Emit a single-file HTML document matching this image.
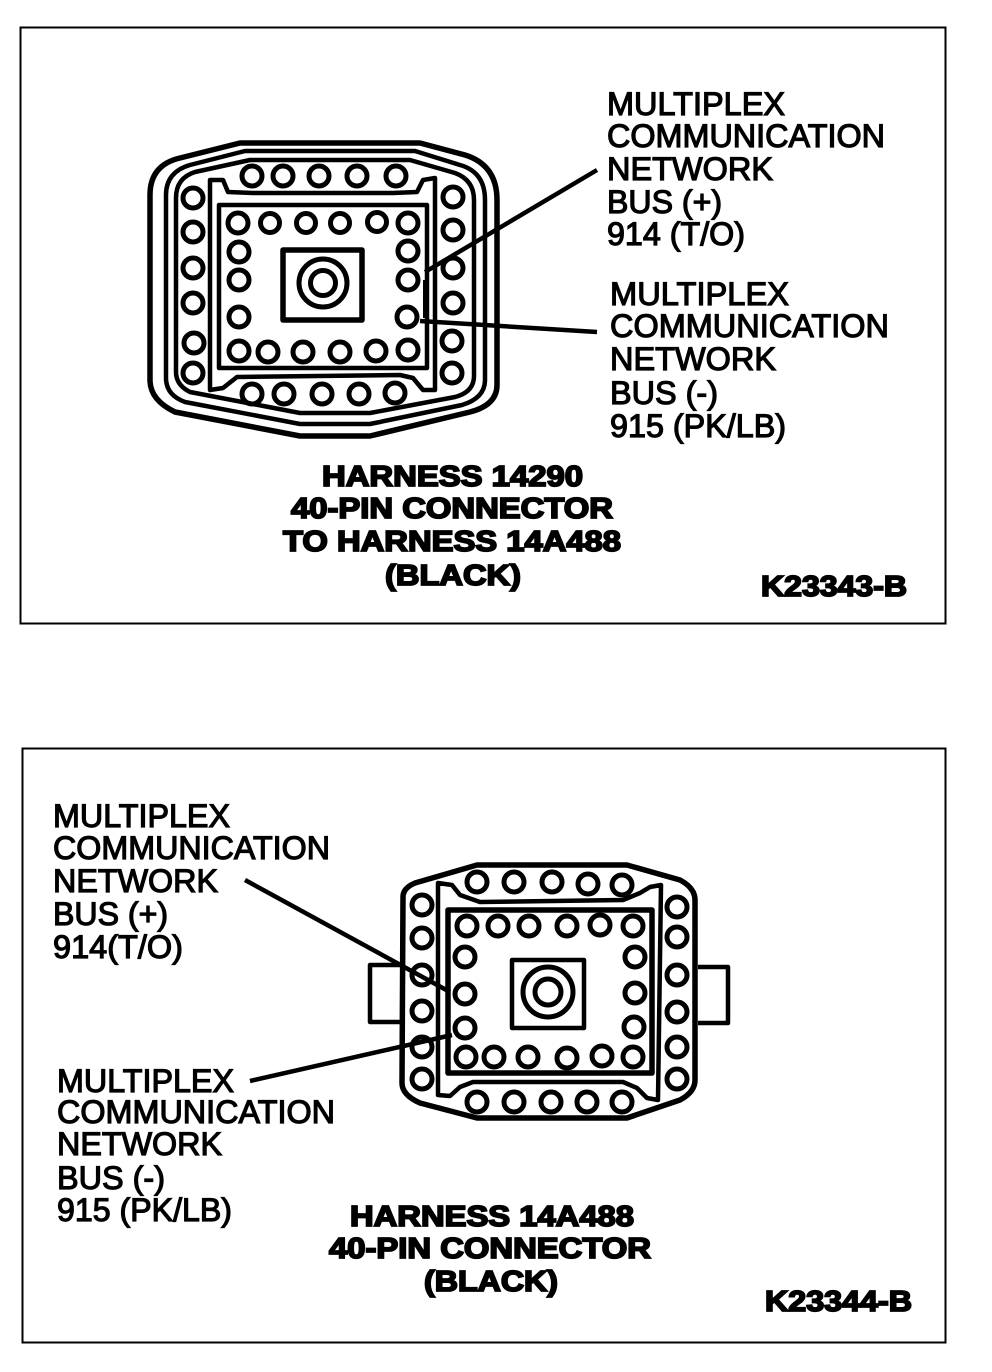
<!DOCTYPE html>
<html><head><meta charset="utf-8"><style>
html,body{margin:0;padding:0;background:#fff}
svg{display:block}
text{font-family:"Liberation Sans",sans-serif;fill:#000}
.l{font-size:32px;stroke:#000;stroke-width:1.2px}
.b{font-size:29px;font-weight:bold;stroke:#000;stroke-width:1.8px}
.c circle{fill:none;stroke:#000;stroke-width:5}
.p{fill:none;stroke:#000;stroke-width:4.5;stroke-linejoin:round}
</style></head><body>
<svg width="992" height="1372" viewBox="0 0 992 1372" xmlns="http://www.w3.org/2000/svg">
<rect width="992" height="1372" fill="#fff"/>
<rect x="20.5" y="27.5" width="925" height="596" fill="none" stroke="#000" stroke-width="2"/>
<rect x="22.5" y="748.5" width="923" height="594" fill="none" stroke="#000" stroke-width="2"/>

<!-- Top connector -->
<path class="p" style="stroke-width:5.5" d="M150 195Q150 165 180 158L240 143H420L465 155Q497 165 497 200V385Q497 405 470 412L370 436H300L175 412Q150 400 150 380Z"/>
<path class="p" d="M166 195Q166 172 190 165L245 151H415L460 165Q485 172 485 200V380Q485 398 462 405L370 424H300L185 402Q166 395 166 378Z"/>
<path class="p" d="M176 198Q176 178 195 172L250 160H410L455 173Q474 180 474 200V376Q474 392 455 397L370 413H300L190 392Q176 385 176 372Z"/>
<path class="p" d="M210 180L223 180 228 192 253 193H393L417 192 423 180 435 178V390H423L413 378 400 375 237 377 223 388 210 390Z"/>
<rect class="p" x="219" y="205" width="208" height="163"/>
<rect class="p" x="283" y="250" width="79" height="70" style="stroke-width:5.5"/>
<rect x="423" y="280" width="6" height="38"/>
<g class="c" fill="#fff">
<circle cx="323" cy="283" r="24"/><circle cx="323" cy="283" r="12.5"/>
<circle cx="252" cy="176" r="10"/><circle cx="283" cy="176" r="10"/><circle cx="319" cy="176" r="10"/><circle cx="357" cy="176" r="10"/><circle cx="396" cy="176" r="10"/>
<circle cx="252" cy="394" r="10"/><circle cx="284" cy="394" r="10"/><circle cx="322" cy="394" r="10"/><circle cx="359" cy="394" r="10"/><circle cx="395" cy="393" r="10"/>
<circle cx="193" cy="198" r="10"/><circle cx="193" cy="232" r="10"/><circle cx="193" cy="268" r="10"/><circle cx="193" cy="303" r="10"/><circle cx="194" cy="343" r="10"/><circle cx="193" cy="373" r="10"/>
<circle cx="453" cy="197" r="10"/><circle cx="453" cy="230" r="10"/><circle cx="453" cy="268" r="10"/><circle cx="453" cy="303" r="10"/><circle cx="452" cy="341" r="10"/><circle cx="452" cy="373" r="10"/>
<circle cx="238" cy="223" r="10"/><circle cx="270" cy="223" r="9.5"/><circle cx="306" cy="223" r="9.5"/><circle cx="340" cy="223" r="9.5"/><circle cx="377" cy="222" r="9.5"/><circle cx="408" cy="223" r="10"/>
<circle cx="239" cy="252" r="10"/><circle cx="239" cy="280" r="10"/><circle cx="239" cy="317" r="10"/>
<circle cx="408" cy="251" r="10"/><circle cx="408" cy="280" r="10"/><circle cx="407" cy="317" r="10"/>
<circle cx="239" cy="351" r="10"/><circle cx="268" cy="352" r="10"/><circle cx="303" cy="352" r="10"/><circle cx="340" cy="352" r="10"/><circle cx="376" cy="351" r="10"/><circle cx="408" cy="350" r="10"/>
</g>
<line x1="597" y1="170" x2="425" y2="272" stroke="#000" stroke-width="4.5"/>
<line x1="420" y1="321" x2="597" y2="332" stroke="#000" stroke-width="4.5"/>

<text class="l" x="607" y="115" textLength="178" lengthAdjust="spacingAndGlyphs">MULTIPLEX</text>
<text class="l" x="607" y="147" textLength="278" lengthAdjust="spacingAndGlyphs">COMMUNICATION</text>
<text class="l" x="607" y="180" textLength="166" lengthAdjust="spacingAndGlyphs">NETWORK</text>
<text class="l" x="607" y="213" textLength="115" lengthAdjust="spacingAndGlyphs">BUS (+)</text>
<text class="l" x="607" y="245" textLength="138" lengthAdjust="spacingAndGlyphs">914 (T/O)</text>
<text class="l" x="610" y="305" textLength="179" lengthAdjust="spacingAndGlyphs">MULTIPLEX</text>
<text class="l" x="610" y="337" textLength="279" lengthAdjust="spacingAndGlyphs">COMMUNICATION</text>
<text class="l" x="610" y="370" textLength="166" lengthAdjust="spacingAndGlyphs">NETWORK</text>
<text class="l" x="610" y="404" textLength="108" lengthAdjust="spacingAndGlyphs">BUS (-)</text>
<text class="l" x="610" y="437" textLength="176" lengthAdjust="spacingAndGlyphs">915 (PK/LB)</text>
<text class="b" x="322" y="486" textLength="261" lengthAdjust="spacingAndGlyphs">HARNESS 14290</text>
<text class="b" x="291" y="518" textLength="322" lengthAdjust="spacingAndGlyphs">40-PIN CONNECTOR</text>
<text class="b" x="283" y="551" textLength="338" lengthAdjust="spacingAndGlyphs">TO HARNESS 14A488</text>
<text class="b" x="385" y="585" textLength="136" lengthAdjust="spacingAndGlyphs">(BLACK)</text>
<text class="b" x="761" y="596" textLength="146" lengthAdjust="spacingAndGlyphs">K23343-B</text>

<!-- Bottom connector -->
<path class="p" style="stroke-width:5.5" d="M403 897Q403 888 415 883L477 865H627L680 880Q695 888 695 900V1080Q695 1092 680 1100L627 1118H477L420 1103Q402 1095 402 1083Z"/>
<path class="p" d="M438 883L452 885 460 895 480 902 623 900 640 893 650 887 661 885 658 1100 647 1098 637 1088 623 1082H473L460 1087 450 1096 438 1095Z"/>
<rect class="p" x="448" y="910" width="204" height="163" style="stroke-width:5.5"/>
<rect class="p" x="512" y="960" width="72" height="68"/>
<path class="p" d="M403 965H370V1022H403"/>
<path class="p" d="M698 967H728V1023H698"/>
<g class="c">
<circle cx="548" cy="992" r="25"/><circle cx="548" cy="992" r="13"/>
<circle cx="477" cy="882" r="10"/><circle cx="514" cy="882" r="10"/><circle cx="552" cy="882" r="10"/><circle cx="588" cy="884" r="10"/><circle cx="622" cy="885" r="10"/>
<circle cx="477" cy="1102" r="10"/><circle cx="514" cy="1102" r="10"/><circle cx="551" cy="1102" r="10"/><circle cx="587" cy="1102" r="10"/><circle cx="622" cy="1102" r="10"/>
<circle cx="422" cy="905" r="10"/><circle cx="422" cy="938" r="10"/><circle cx="422" cy="975" r="10"/><circle cx="422" cy="1011" r="10"/><circle cx="422" cy="1047" r="10"/><circle cx="422" cy="1079" r="10"/>
<circle cx="677" cy="907" r="10"/><circle cx="677" cy="937" r="10"/><circle cx="677" cy="975" r="10"/><circle cx="677" cy="1012" r="10"/><circle cx="677" cy="1047" r="10"/><circle cx="677" cy="1079" r="10"/>
<circle cx="467" cy="926" r="10"/><circle cx="498" cy="926" r="10"/><circle cx="529" cy="926" r="10"/><circle cx="567" cy="926" r="10"/><circle cx="600" cy="925" r="10"/><circle cx="633" cy="926" r="10"/>
<circle cx="465" cy="957" r="10"/><circle cx="465" cy="994" r="10"/><circle cx="465" cy="1028" r="10"/>
<circle cx="635" cy="957" r="10"/><circle cx="635" cy="993" r="10"/><circle cx="634" cy="1027" r="10"/>
<circle cx="466" cy="1057" r="10"/><circle cx="494" cy="1057" r="10"/><circle cx="528" cy="1057" r="10"/><circle cx="567" cy="1058" r="10"/><circle cx="602" cy="1056" r="10"/><circle cx="633" cy="1057" r="10"/>
</g>
<line x1="245" y1="880" x2="450" y2="992" stroke="#000" stroke-width="4.5"/>
<line x1="250" y1="1081" x2="452" y2="1035" stroke="#000" stroke-width="4.5"/>

<text class="l" x="53" y="827" textLength="177" lengthAdjust="spacingAndGlyphs">MULTIPLEX</text>
<text class="l" x="53" y="859" textLength="277" lengthAdjust="spacingAndGlyphs">COMMUNICATION</text>
<text class="l" x="53" y="892" textLength="165" lengthAdjust="spacingAndGlyphs">NETWORK</text>
<text class="l" x="53" y="925" textLength="115" lengthAdjust="spacingAndGlyphs">BUS (+)</text>
<text class="l" x="53" y="958" textLength="130" lengthAdjust="spacingAndGlyphs">914(T/O)</text>
<text class="l" x="57" y="1092" textLength="177" lengthAdjust="spacingAndGlyphs">MULTIPLEX</text>
<text class="l" x="57" y="1123" textLength="278" lengthAdjust="spacingAndGlyphs">COMMUNICATION</text>
<text class="l" x="57" y="1155" textLength="165" lengthAdjust="spacingAndGlyphs">NETWORK</text>
<text class="l" x="57" y="1189" textLength="108" lengthAdjust="spacingAndGlyphs">BUS (-)</text>
<text class="l" x="57" y="1221" textLength="175" lengthAdjust="spacingAndGlyphs">915 (PK/LB)</text>
<text class="b" x="350" y="1226" textLength="284" lengthAdjust="spacingAndGlyphs">HARNESS 14A488</text>
<text class="b" x="329" y="1258" textLength="322" lengthAdjust="spacingAndGlyphs">40-PIN CONNECTOR</text>
<text class="b" x="424" y="1291" textLength="134" lengthAdjust="spacingAndGlyphs">(BLACK)</text>
<text class="b" x="765" y="1311" textLength="147" lengthAdjust="spacingAndGlyphs">K23344-B</text>
</svg>
</body></html>
